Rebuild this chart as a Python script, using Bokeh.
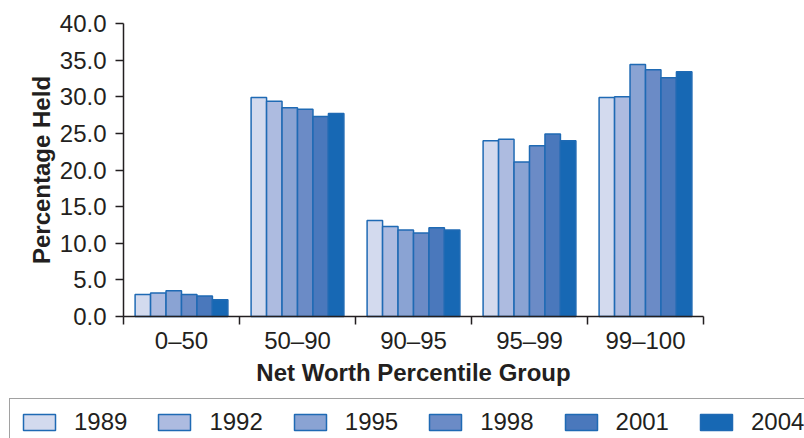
from bokeh.plotting import figure
from bokeh.models import (ColumnDataSource, Range1d, FixedTicker, PrintfTickFormatter,
                          Legend, LegendItem, LinearAxis)
from bokeh.embed import file_html
from bokeh.resources import INLINE

categories = ["0\u201350", "50\u201390", "90\u201395", "95\u201399", "99\u2013100"]
years = ["1989", "1992", "1995", "1998", "2001", "2004"]
v1989 = [3.0, 29.9, 13.1, 24.0, 29.9]
v1992 = [3.2, 29.4, 12.3, 24.2, 30.0]
v1995 = [3.5, 28.5, 11.8, 21.1, 34.4]
v1998 = [3.0, 28.3, 11.4, 23.3, 33.7]
v2001 = [2.8, 27.3, 12.1, 24.9, 32.6]
v2004 = [2.3, 27.7, 11.8, 24.0, 33.4]
series = [v1989, v1992, v1995, v1998, v2001, v2004]
colors = ["#d3daee", "#adbbe0", "#8aa3d3", "#6b8bc6", "#4a78bc", "#1768b4"]
y_ticks = [0, 5, 10, 15, 20, 25, 30, 35, 40]
y_max = 40

FONT = "Liberation Sans"
TXT = "#231f20"
FS = "24px"
EDGE = "#1f6ab4"

W, H = 804, 438
# plot area inside the canvas (pixels): left, right, top, bottom
AL, AR, AT, AB = 123, 703, 23, 316
n = len(categories)
xs_per_px = n / (AR - AL)
ys_per_px = y_max / (AB - AT)
x_range = Range1d(-AL * xs_per_px, n + (W - AR) * xs_per_px)
y_range = Range1d(-(H - AB) * ys_per_px, y_max + AT * ys_per_px)

p = figure(width=W, height=H, output_backend="svg", toolbar_location=None,
           x_range=x_range, y_range=y_range,
           x_axis_location=None, y_axis_location=None)
p.min_border = 0
p.min_border_left = 0
p.min_border_right = 0
p.min_border_top = 0
p.min_border_bottom = 0
p.outline_line_color = None
p.grid.visible = False

group_w = 0.8
bar_w = group_w / len(years)
items = []
for j, (yr, vals, c) in enumerate(zip(years, series, colors)):
    xs = [i + (1 - group_w) / 2 + bar_w * (j + 0.5) for i in range(n)]
    src = ColumnDataSource(dict(x=xs, top=vals))
    r = p.vbar(x="x", top="top", width=bar_w, bottom=0, source=src,
               fill_color=c, line_color=EDGE, line_width=1.5)
    items.append(LegendItem(label=yr, renderers=[r]))

# x axis
xa = LinearAxis(fixed_location=0, bounds=(0, n))
xa.ticker = FixedTicker(ticks=[i + 0.5 for i in range(n)],
                        minor_ticks=list(range(n + 1)))
xa.major_label_overrides = {i + 0.5: c for i, c in enumerate(categories)}
xa.major_tick_out = 0
xa.major_tick_in = 0
xa.minor_tick_out = 8
xa.minor_tick_in = 0
xa.minor_tick_line_color = TXT
xa.minor_tick_line_width = 1.5
xa.axis_label = "Net Worth Percentile Group"
xa.major_label_standoff = 2
xa.axis_label_standoff = 2

# y axis
ya = LinearAxis(fixed_location=0, bounds=(0, y_max))
ya.ticker = FixedTicker(ticks=y_ticks, minor_ticks=[])
ya.formatter = PrintfTickFormatter(format="%.1f")
ya.major_tick_out = 8
ya.major_tick_in = 0
ya.axis_label = "Percentage Held"
ya.major_label_standoff = 9
ya.axis_label_standoff = 2

for ax in (xa, ya):
    ax.axis_line_color = TXT
    ax.axis_line_width = 1.5
    ax.major_tick_line_color = TXT
    ax.major_tick_line_width = 1.5
    ax.major_label_text_font = FONT
    ax.major_label_text_font_size = FS
    ax.major_label_text_color = TXT
    ax.axis_label_text_font = FONT
    ax.axis_label_text_font_size = FS
    ax.axis_label_text_font_style = "bold"
    ax.axis_label_text_color = TXT

p.add_layout(xa, "below")
p.add_layout(ya, "left")

legend = Legend(items=items, orientation="horizontal", location=(9, -8),
                glyph_width=40, glyph_height=20, label_standoff=15, spacing=27,
                padding=9, margin=0,
                label_text_font=FONT, label_text_font_size=FS,
                label_text_color=TXT,
                border_line_color="#444444", border_line_width=1.5,
                background_fill_color="white", background_fill_alpha=1.0)
p.add_layout(legend, "center")

open("out.html", "w").write(file_html(p, INLINE))
